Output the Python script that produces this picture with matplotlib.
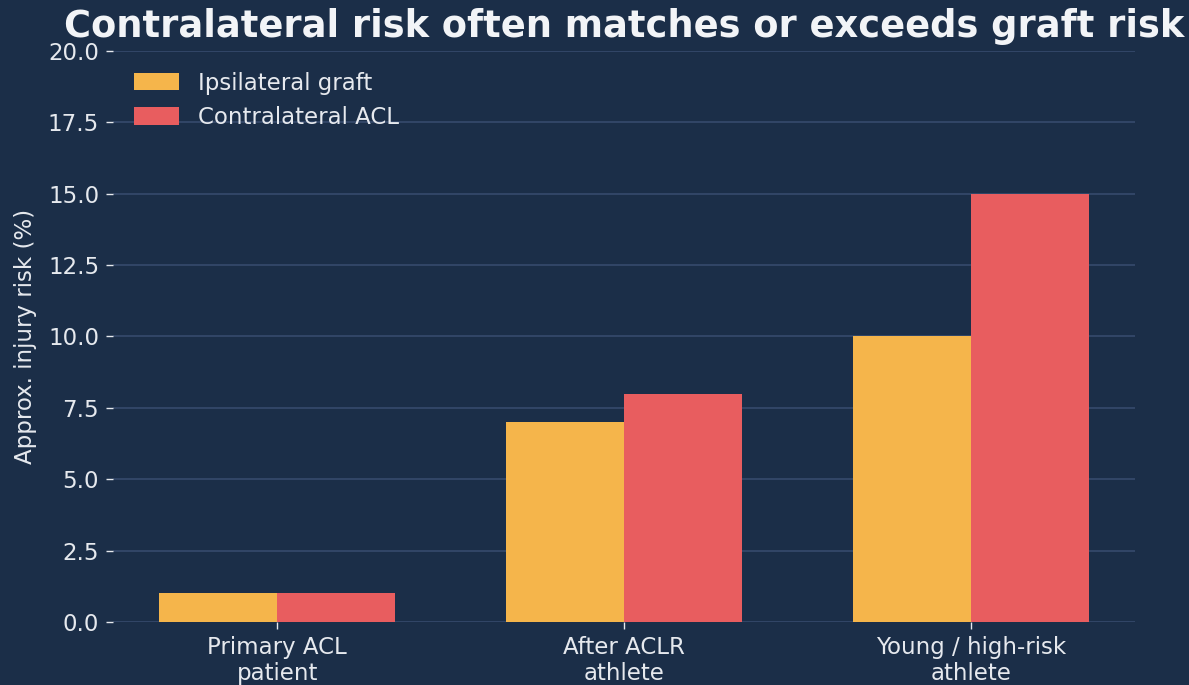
import numpy as np
import matplotlib
matplotlib.use("Agg")
import matplotlib.pyplot as plt

# Injury risk by patient group (%)
groups = ["Primary ACL\npatient", "After ACLR\nathlete", "Young / high-risk\nathlete"]
ipsilateral = [1.0, 7.0, 10.0]
contralateral = [1.0, 8.0, 15.0]
yticks = [0.0, 2.5, 5.0, 7.5, 10.0, 12.5, 15.0, 17.5, 20.0]

bg = "#1b2e48"
text_col = "#e6e9ee"
grid_col = "#34486a"
orange = "#f5b54b"
red = "#e85d5f"

fig = plt.figure(figsize=(11.89, 6.85), dpi=100, facecolor=bg)
ax = fig.add_axes([0.095, 0.092, 0.8596, 0.8336], facecolor=bg)

x = np.arange(len(groups))
width = 0.34
ax.bar(x - width / 2, ipsilateral, width, color=orange, label="Ipsilateral graft", zorder=3)
ax.bar(x + width / 2, contralateral, width, color=red, label="Contralateral ACL", zorder=3)

ax.set_ylim(0, 20)
ax.set_yticks(yticks)
ax.set_yticklabels([f"{v:.1f}" for v in yticks])
ax.set_xticks(x)
ax.set_xticklabels(groups)

ax.grid(axis="y", color=grid_col, linewidth=1.3, zorder=0)
for s in ax.spines.values():
    s.set_visible(False)
ax.tick_params(colors=text_col, labelsize=16.5, length=5, width=1, pad=5)

ax.set_ylabel("Approx. injury risk (%)", color=text_col, fontsize=16.5, labelpad=8)
ax.set_title("Contralateral risk often matches or exceeds graft risk",
             color="#f2f4f7", fontsize=26.5, fontweight="bold", pad=10)

leg = ax.legend(loc="upper left", fontsize=16.5, frameon=False,
                bbox_to_anchor=(0.0, 1.0), handlelength=2.0, handleheight=0.8)
for t in leg.get_texts():
    t.set_color(text_col)

fig.savefig("out.png", dpi=100, facecolor=bg)
